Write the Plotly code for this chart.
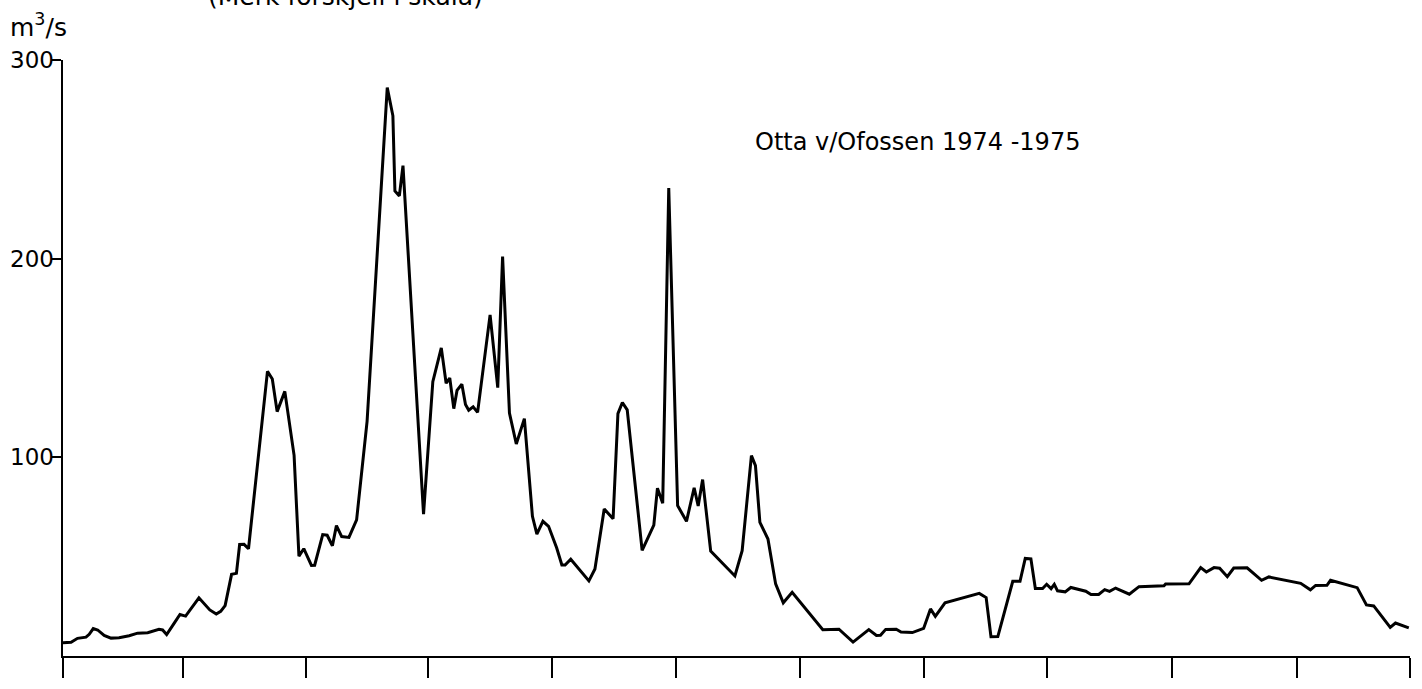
import plotly.graph_objects as go

# Daily discharge, Otta v/Ofossen 1974-1975 (day index from start of record, m3/s)
days = [0, 2.0, 3.6, 5.7, 6.5, 7.5, 8.6, 10.2, 11.9, 13.9, 16.4, 18.5, 21.0, 23.8, 24.7,
        25.7, 27.5, 29.0, 30.4, 33.7, 36.4, 38.0, 39.1, 40.2, 41.8, 43.0, 43.8, 44.9, 46.0,
        50.7, 51.9, 53.1, 55.0, 57.3, 58.5, 59.7, 61.6, 62.4, 64.4, 65.5, 66.8, 67.8, 69.1,
        70.9, 72.8, 75.4, 80.4, 81.8, 82.3, 83.4, 84.3, 89.4, 91.7, 93.8, 95.0, 95.9, 96.9,
        97.7, 98.9, 99.8, 100.6, 101.7, 102.8, 105.9, 107.8, 109.0, 110.7, 112.4, 114.4,
        116.4, 117.5, 119.0, 120.4, 122.4, 123.7, 124.5, 125.9, 130.4, 131.9, 134.2, 136.4,
        137.6, 138.7, 139.9, 143.6, 144.7, 146.5, 147.4, 148.7, 150.2, 152.0, 152.4, 154.6,
        156.5, 157.5, 158.6, 160.6, 166.6, 168.4, 170.7, 171.7, 172.8, 174.8, 176.7, 178.6,
        180.8, 188.4, 192.4, 195.9, 199.8, 201.7, 202.7, 204.0, 206.6, 207.8, 210.6, 213.4,
        215.1, 216.3, 218.7, 227.2, 228.9, 230.1, 231.8, 235.5, 237.3, 238.6, 240.0, 241.1,
        242.9, 243.9, 245.0, 245.8, 246.6, 248.5, 249.9, 253.6, 254.9, 256.8, 258.3, 259.5,
        261.0, 264.4, 266.8, 273.0, 273.4, 279.2, 282.1, 283.5, 285.4, 286.8, 288.7, 290.3,
        293.6, 297.2, 299.0, 306.9, 309.3, 310.6, 313.4, 314.3, 320.9, 323.2, 325.0, 329.1,
        330.4, 333.7]

flow = [6.7, 6.9, 8.9, 9.5, 10.9, 13.8, 13.1, 10.4, 9.0, 9.2, 10.2, 11.5, 11.7, 13.4, 13.1,
        10.8, 16.3, 20.9, 20.1, 29.3, 23.2, 21.1, 22.5, 25.4, 41.1, 41.6, 56.1, 56.2, 54.0,
        143.3, 139.4, 123.0, 133.2, 101.0, 50.3, 54.0, 45.6, 45.7, 61.1, 60.8, 55.5, 65.6, 60.1,
        59.7, 68.5, 118.1, 286.1, 271.9, 234.1, 231.6, 246.8, 71.4, 138.1, 155.1, 137.3, 139.9, 124.5,
        133.7, 136.8, 126.6, 123.7, 125.4, 122.6, 171.7, 135.1, 201.1, 122.3, 106.7, 119.5,
        70.3, 61.4, 67.8, 65.3, 54.5, 45.8, 45.8, 48.7, 37.8, 43.8, 74.0, 69.1,
        122.0, 127.6, 123.9, 53.2, 58.3, 65.9, 84.5, 76.9, 235.6, 98.8, 75.7, 67.8,
        84.7, 75.5, 88.8, 52.8, 40.3, 53.0, 100.9, 95.8, 67.3, 58.9, 36.3, 26.8,
        32.1, 13.2, 13.5, 7.0, 13.3, 10.3, 10.4, 13.4, 13.5, 12.1, 11.8, 13.9,
        23.7, 20.0, 26.8, 31.5, 29.4, 9.7, 9.8, 37.6, 37.6, 49.1, 48.9, 34.0,
        34.0, 36.1, 33.9, 36.1, 32.8, 32.3, 34.5, 32.6, 30.9, 31.0, 33.4, 32.5,
        34.2, 31.1, 34.9, 35.3, 36.2, 36.3, 44.5, 42.3, 44.5, 44.2, 39.9, 44.3,
        44.4, 38.1, 39.8, 36.6, 33.3, 35.5, 35.6, 38.1, 34.4, 25.7, 25.2, 14.4,
        16.6, 14.2]

assert len(days) == len(flow)

# Time-axis tick positions (unlabeled)
x_ticks = [0, 29.7, 60.3, 90.6, 121.3, 151.9, 182.7, 213.6, 243.9, 274.9, 306.1, 334]
y_ticks = [100, 200, 300]
y_labels = ["100", "200", "300"]

FONT = "DejaVu Sans"

fig = go.Figure()
fig.add_trace(go.Scatter(
    x=days, y=flow, mode="lines",
    line=dict(color="black", width=3),
    hoverinfo="skip", showlegend=False,
))

# Value labels set right against the short left-pointing ticks
tick_label_notes = [
    dict(text=lab, xref="paper", yref="y", x=-0.0052, y=val,
         xanchor="right", yanchor="middle", showarrow=False,
         font=dict(family=FONT, size=23, color="black"))
    for val, lab in zip(y_ticks, y_labels)
]

fig.update_layout(
    width=1422, height=689,
    margin=dict(l=63, r=12, t=60, b=33),
    paper_bgcolor="white", plot_bgcolor="white",
    font=dict(family=FONT, color="black"),
    xaxis=dict(
        range=[0, 334], showgrid=False, zeroline=False, automargin=False,
        showline=True, linecolor="black", linewidth=2,
        ticks="outside", ticklen=20, tickwidth=2, tickcolor="black",
        tickvals=x_ticks, showticklabels=False,
    ),
    yaxis=dict(
        range=[0, 300], showgrid=False, zeroline=False, automargin=False,
        showline=True, linecolor="black", linewidth=2,
        ticks="outside", ticklen=10, tickwidth=2, tickcolor="black",
        tickvals=y_ticks, showticklabels=False,
    ),
    annotations=tick_label_notes + [
        dict(text="m<sup>3</sup>/s", xref="paper", yref="paper",
             x=-0.041, y=1.058, xanchor="left", yanchor="middle",
             showarrow=False, font=dict(family=FONT, size=25, color="black")),
        dict(text="Otta v/Ofossen 1974 -1975", xref="paper", yref="paper",
             x=0.512, y=0.862, xanchor="left", yanchor="middle",
             showarrow=False, font=dict(family=FONT, size=24, color="black")),
        dict(text="(Merk forskjell i skala)", xref="paper", yref="paper",
             x=0.106, y=1.079, xanchor="left", yanchor="bottom",
             showarrow=False, font=dict(family=FONT, size=25, color="black")),
    ],
)

fig.write_html("out.html")
